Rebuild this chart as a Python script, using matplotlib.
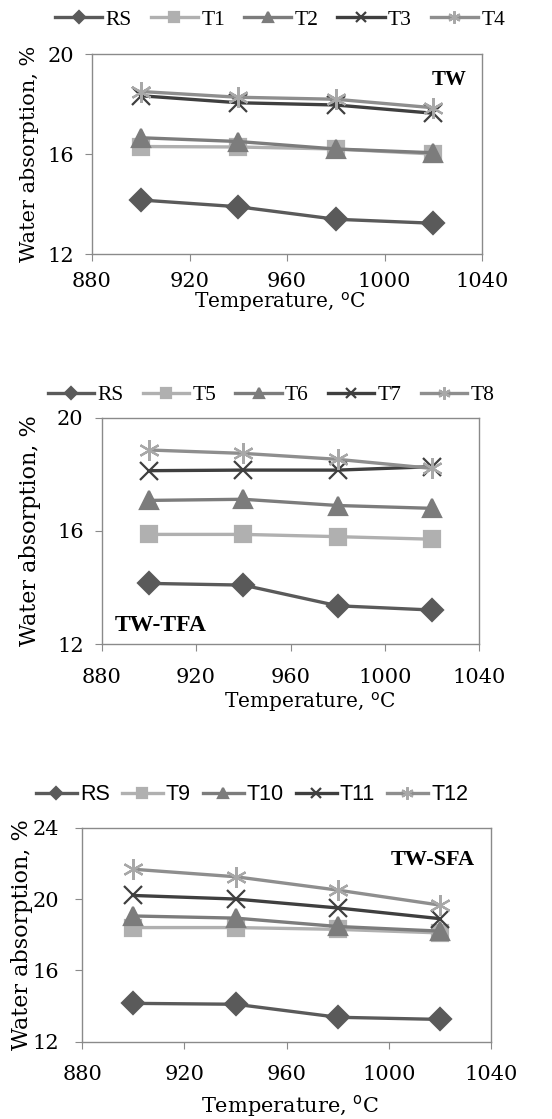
import matplotlib
matplotlib.use("Agg")
import matplotlib.pyplot as plt

temps = [900, 940, 980, 1020]

# panel 1 (TW)
tw_rs = [14.16, 13.89, 13.39, 13.23]
tw_t1 = [16.30, 16.28, 16.20, 16.00]
tw_t2 = [16.65, 16.50, 16.20, 16.05]
tw_t3 = [18.33, 18.05, 17.96, 17.63]
tw_t4 = [18.50, 18.27, 18.19, 17.85]

# panel 2 (TW-TFA)
tfa_rs = [14.15, 14.09, 13.36, 13.21]
tfa_t5 = [15.88, 15.88, 15.80, 15.71]
tfa_t6 = [17.08, 17.12, 16.90, 16.80]
tfa_t7 = [18.13, 18.15, 18.15, 18.27]
tfa_t8 = [18.86, 18.74, 18.53, 18.21]

# panel 3 (TW-SFA)
sfa_rs = [14.15, 14.10, 13.37, 13.25]
sfa_t9 = [18.40, 18.40, 18.30, 18.10]
sfa_t10 = [19.05, 18.93, 18.46, 18.20]
sfa_t11 = [20.20, 20.00, 19.50, 18.90]
sfa_t12 = [21.67, 21.25, 20.50, 19.66]

W, H = 552, 1119
fig = plt.figure(figsize=(W / 100, H / 100), dpi=100)
serif = "DejaVu Serif"

# style per series position: colour, marker, marker colour, size
styles = [
    ("#5a5a5a", "D", "#5a5a5a", 11),
    ("#b0b0b0", "s", "#b0b0b0", 12),
    ("#7c7c7c", "^", "#7c7c7c", 13),
    ("#3f3f3f", "x", "#3f3f3f", 13),
    ("#8e8e8e", (6, 2, 0), "#a8a8a8", 15),
]


def panel(box, ylim, yticks, series, names, tag, tagpos, tagsize, leg, lab, pads):
    l, b, r, t = box
    legy, legx, legfont, legsize, hl, cs = leg
    ylab_x, ylab_size, xlab_x, xlab_y, xlab_size = lab
    ax = fig.add_axes([l / W, 1 - b / H, (r - l) / W, (b - t) / H])
    for (c, m, mc, ms), ys, nm in zip(styles, series, names):
        ax.plot(temps, ys, color=c, lw=2.4, marker=m, ms=ms, mfc=mc, mec=mc,
                mew=1.6, label=nm)
    ax.set_xlim(880, 1040)
    ax.set_ylim(*ylim)
    ax.set_xticks([880, 920, 960, 1000, 1040])
    ax.set_yticks(yticks)
    for s in ax.spines.values():
        s.set_color("#8a8a8a")
        s.set_linewidth(1.0)
    ax.tick_params(direction="out", length=5, color="#8a8a8a", labelsize=15)
    ax.tick_params(axis="x", pad=pads[0])
    ax.tick_params(axis="y", pad=pads[1])
    for lab_ in ax.get_xticklabels() + ax.get_yticklabels():
        lab_.set_fontfamily(serif)
    ax.text(tagpos[0], tagpos[1], tag, transform=ax.transAxes, fontsize=tagsize,
            fontweight="bold", fontfamily="Liberation Serif", ha=tagpos[2], va="center")
    fig.text(ylab_x / W, 1 - (b + t) / 2 / H, "Water absorption, %", rotation=90,
             fontsize=ylab_size, fontfamily=serif, ha="center", va="center")
    fig.text(xlab_x / W, 1 - xlab_y / H, "Temperature, $^{\\rm o}$C",
             fontsize=xlab_size, fontfamily=serif, ha="center", va="center")
    ax.legend(loc="center", bbox_to_anchor=(legx / W, 1 - legy / H),
              bbox_transform=fig.transFigure, ncol=5, frameon=False,
              handlelength=hl, handletextpad=0.15, columnspacing=cs,
              markerscale=0.6, prop={"family": legfont, "size": legsize})
    return ax


panel((92, 254, 482, 54), (12, 20), [12, 16, 20],
      [tw_rs, tw_t1, tw_t2, tw_t3, tw_t4], ["RS", "T1", "T2", "T3", "T4"],
      "TW", (0.96, 0.87, "right"), 15,
      (20, 280, "Liberation Serif", 15.5, 2.2, 0.88),
      (30, 15, 280, 302, 14.5), (8, 8))

panel((101.7, 644.3, 479.3, 417.7), (12, 20), [12, 16, 20],
      [tfa_rs, tfa_t5, tfa_t6, tfa_t7, tfa_t8], ["RS", "T5", "T6", "T7", "T8"],
      "TW-TFA", (0.035, 0.085, "left"), 17,
      (395, 271, "Liberation Serif", 15.5, 2.15, 0.9),
      (30, 16, 310, 702, 14.5), (12, 8))

panel((82.3, 1041.7, 491, 827.7), (12, 24), [12, 16, 20, 24],
      [sfa_rs, sfa_t9, sfa_t10, sfa_t11, sfa_t12], ["RS", "T9", "T10", "T11", "T12"],
      "TW-SFA", (0.96, 0.85, "right"), 16,
      (795, 252, "Liberation Sans", 15.5, 1.9, 0.55),
      (22, 16, 290, 1106, 15), (12, 12))

fig.savefig("out.png", dpi=100)
